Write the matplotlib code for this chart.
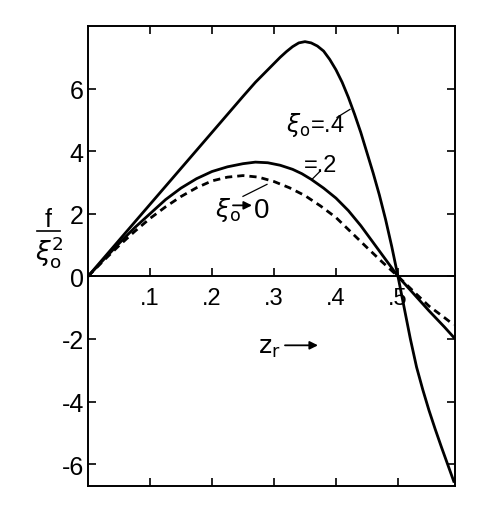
import numpy as np
import matplotlib
matplotlib.use('Agg')
from matplotlib import pyplot as plt

plt.rcParams['font.family'] = ['Liberation Sans', 'DejaVu Sans']
plt.rcParams['axes.unicode_minus'] = False
plt.rcParams['mathtext.fontset'] = 'dejavusans'

# curve xi_o = .4 (solid, tall)
x_04 = [0, 0.05, 0.10, 0.15, 0.20, 0.25, 0.27, 0.28, 0.29, 0.30, 0.31, 0.32,
        0.33, 0.34, 0.35, 0.36, 0.37, 0.38, 0.39, 0.40, 0.41, 0.42, 0.43, 0.44,
        0.45, 0.46, 0.47, 0.48, 0.49, 0.50, 0.51, 0.52, 0.53, 0.54, 0.55, 0.56,
        0.57, 0.58, 0.59]
y_04 = [0, 1.15, 2.3, 3.45, 4.6, 5.75, 6.2, 6.4, 6.6, 6.8, 7.0, 7.18,
        7.34, 7.46, 7.5, 7.46, 7.36, 7.2, 6.93, 6.6, 6.2, 5.72, 5.18, 4.6,
        3.95, 3.3, 2.6, 1.82, 0.95, 0.0, -1.0, -2.0, -2.9, -3.62, -4.28, -4.88,
        -5.45, -6.0, -6.55]

# curve xi_o = .2 (solid)
x_02 = [0, 0.025, 0.05, 0.075, 0.10, 0.125, 0.15, 0.175, 0.20, 0.225, 0.25,
        0.27, 0.29, 0.31, 0.33, 0.345, 0.36, 0.38, 0.40, 0.42, 0.44, 0.46,
        0.48, 0.50, 0.525, 0.55, 0.575, 0.59]
y_02 = [0, 0.53, 1.05, 1.55, 2.0, 2.45, 2.82, 3.12, 3.35, 3.5, 3.6,
        3.65, 3.63, 3.55, 3.42, 3.28, 3.1, 2.82, 2.5, 2.1, 1.62, 1.08,
        0.54, 0.0, -0.55, -1.1, -1.62, -1.95]

# curve xi_o -> 0 (dashed)
x_00 = [0, 0.025, 0.05, 0.075, 0.10, 0.125, 0.15, 0.175, 0.20, 0.225, 0.25,
        0.275, 0.30, 0.325, 0.35, 0.375, 0.40, 0.425, 0.45, 0.475, 0.50,
        0.525, 0.55, 0.575, 0.59]
y_00 = [0, 0.5, 0.98, 1.43, 1.85, 2.22, 2.55, 2.83, 3.05, 3.17, 3.22,
        3.17, 3.03, 2.83, 2.58, 2.25, 1.88, 1.4, 0.92, 0.45, 0.0,
        -0.48, -0.95, -1.32, -1.55]

xticks = [0.1, 0.2, 0.3, 0.4, 0.5]
xticklabels = ['.1', '.2', '.3', '.4', '.5']
yticks = [-6, -4, -2, 0, 2, 4, 6]

W, H = 499, 506
fig = plt.figure(figsize=(W/100., H/100.), dpi=100)
ax = fig.add_axes([88./W, 1-487./H, (455.-88)/W, (487.-27)/H])

lw = 2.0
ax.plot(x_04, y_04, color='black', lw=lw, solid_joinstyle='round')
ax.plot(x_02, y_02, color='black', lw=lw, solid_joinstyle='round')
ax.plot(x_00, y_00, color='black', lw=lw, linestyle=(0, (2.6, 1.8)))

ax.set_xlim(0, 0.592)
ax.set_ylim(-6.7, 8.0)

for s in ax.spines.values():
    s.set_linewidth(1.4)

ax.set_xticks(xticks)
ax.set_xticklabels([])
ax.set_yticks(yticks)
ax.tick_params(axis='both', direction='in', top=True, right=True,
               length=6, width=1.2, labelsize=18)
ax.tick_params(axis='y', pad=3)

# the z axis through f = 0
sec = ax.secondary_xaxis(0, transform=ax.transData)
sec.spines['bottom'].set_linewidth(1.4)
sec.set_xticks(xticks)
sec.set_xticklabels(xticklabels)
sec.tick_params(direction='in', length=6, width=1.2, labelsize=17, pad=8)

# curve labels
def px(x, y):
    return ((x - 88.) / 620., (278. - y) / 31.3)

ax.text(*px(286, 133), r'$\xi_{\rm o}$=.4', fontsize=17, ha='left', va='baseline')
ax.plot(*zip(px(337, 119), px(350, 111)), color='black', lw=0.9)
ax.text(*px(304, 173), '=.2', fontsize=17, ha='left', va='baseline')
ax.plot(*zip(px(320, 173), px(312, 181)), color='black', lw=0.9)
ax.text(*px(215, 218), r'$\xi_{\rm o}$', fontsize=18, ha='left', va='baseline')
ax.annotate('', xy=px(252, 207), xytext=px(233, 207),
            arrowprops=dict(arrowstyle='-|>', color='black', lw=1.3,
                            mutation_scale=12, shrinkA=0, shrinkB=0))
ax.text(*px(254, 219), '0', fontsize=20, ha='left', va='baseline')
ax.plot(*zip(px(243, 198), px(267, 186)), color='black', lw=0.9)

# z_r arrow label
ax.text(*px(258, 354), r'$\mathrm{z}_{\mathrm{r}}$', fontsize=18, ha='left', va='baseline')
ax.annotate('', xy=px(318, 347), xytext=px(285, 347),
            arrowprops=dict(arrowstyle='-|>', color='black', lw=1.3,
                            mutation_scale=12, shrinkA=0, shrinkB=0))

# y label f / xi_o^2
fig.text(48./W, 1-227./H, 'f', fontsize=18, ha='center', va='baseline')
fig.add_artist(plt.Line2D([37./W, 60./W], [1-232./H, 1-232./H], color='black', lw=1.2))
fig.text(35./W, 1-260./H, r'$\xi_{\rm o}^{2}$', fontsize=19, ha='left', va='baseline')

fig.savefig('out.png', dpi=100)
